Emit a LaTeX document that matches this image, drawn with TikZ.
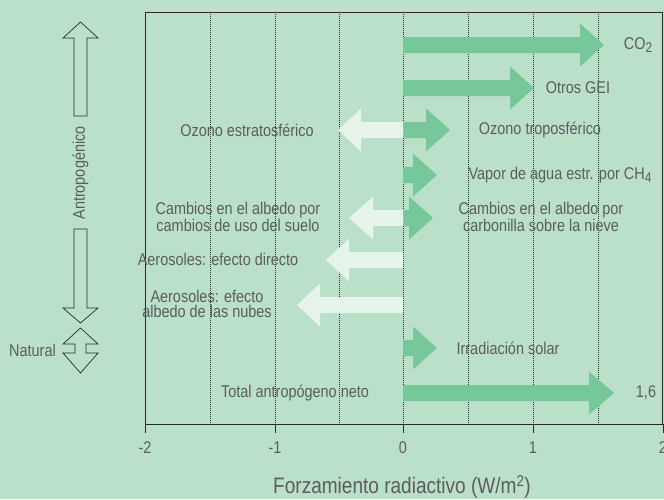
\documentclass[tikz,border=0pt]{standalone}
\usepackage{fontspec}
\setmainfont{Liberation Sans}[FakeStretch=0.85]
\usetikzlibrary{calc}
\definecolor{bgmint}{HTML}{BAE0CA}
\definecolor{posgreen}{HTML}{76C799}
\definecolor{neglight}{HTML}{E6F4EC}
\definecolor{txtgray}{HTML}{5C5C5C}
\definecolor{linegray}{HTML}{2A2A2A}
\newcommand{\lowidx}[1]{\raisebox{-0.3ex}{\fontsize{14}{14}\selectfont #1}}
\tikzset{lbl/.style={text=txtgray, inner sep=0pt, align=center, font=\fontsize{17}{12.5}\selectfont},
  gridline/.style={linegray, line width=0.5pt, dash pattern=on 1pt off 1pt},
  outline/.style={linegray, line width=0.7pt, line join=miter}}

\begin{document}
\begin{tikzpicture}[x=1pt,y=-1pt]
\useasboundingbox (0,0) rectangle (664,499);
\fill[bgmint] (0,0) rectangle (664,499);
% grid and frame
\foreach \x in {210,275,339,403,468,533,598} \draw[gridline] (\x,12) -- (\x,424);
\draw[linegray, line width=0.6pt] (145,12) rectangle (662,424);
\foreach \x/\t in {145/-2,275/-1,403/0,533/1,663/2} {
  \draw[linegray, line width=0.6pt] (\x,424) -- (\x,433);
  \node[lbl] (tick\x) at (\x,448) {\t};
}
% forcing arrows
\foreach \c/\b/\t in {45/580/604, 88/510/534, 130/426/450, 175/413/437, 218/409/433, 348/413/437, 393/589/614}
  \fill[posgreen] (403,\c-8) -- (\b,\c-8) -- (\b,\c-21.5) -- (\t,\c) -- (\b,\c+21.5) -- (\b,\c+8) -- (403,\c+8) -- cycle;
\foreach \c/\b/\t in {130/361/338, 218/373/349, 260/349/326, 305/320/297}
  \fill[neglight] (403,\c-8) -- (\b,\c-8) -- (\b,\c-21.5) -- (\t,\c) -- (\b,\c+21.5) -- (\b,\c+8) -- (403,\c+8) -- cycle;
% labels
\node[lbl] (co2) at (638,45) {CO\lowidx{2}};
\node[lbl] (otros) at (578,88) {Otros GEI};
\node[lbl] (ozotrop) at (540,130) {Ozono troposférico};
\node[lbl] (ozoestr) at (247,130) {Ozono estratosférico};
\node[lbl] (vapor) at (560,175) {Vapor de agua estr. por CH\lowidx{4}};
\node[lbl] (carbon) at (541,217) {Cambios en el albedo por\\carbonilla sobre la nieve};
\node[lbl] (suelo) at (238,217) {Cambios en el albedo por\\cambios de uso del suelo};
\node[lbl] (aerodir) at (218,259) {Aerosoles: efecto directo};
\node[lbl, font=\fontsize{17}{15.7}\selectfont] (aeronub) at (207,304) {Aerosoles: efecto\\albedo de las nubes};
\node[lbl] (irrad) at (508,348) {Irradiación solar};
\node[lbl] (total) at (295,393) {Total antropógeno neto};
\node[lbl] (neto) at (646,393) {1,6};
\node[lbl, font=\fontsize{22.4}{22}\selectfont] (eje) at (402,487) {Forzamiento radiactivo (W/m\textsuperscript{2})};
% origin arrows
\draw[outline] (74,116) -- (74,38) -- (63,38) -- (80.5,22) -- (98,38) -- (87,38) -- (87,116) -- cycle;
\draw[outline] (74,229) -- (87,229) -- (87,308) -- (98,308) -- (80.5,323) -- (63,308) -- (74,308) -- cycle;
\node[lbl, rotate=90] (antro) at (80.5,173) {Antropogénico};
\draw[outline] (80.5,328) -- (98,344) -- (86,344) -- (86,353) -- (98,353) -- (80.5,373) -- (63,353) -- (75,353) -- (75,344) -- (63,344) -- cycle;
\node[lbl] (natural) at (32.5,350) {Natural};
\end{tikzpicture}
\end{document}
